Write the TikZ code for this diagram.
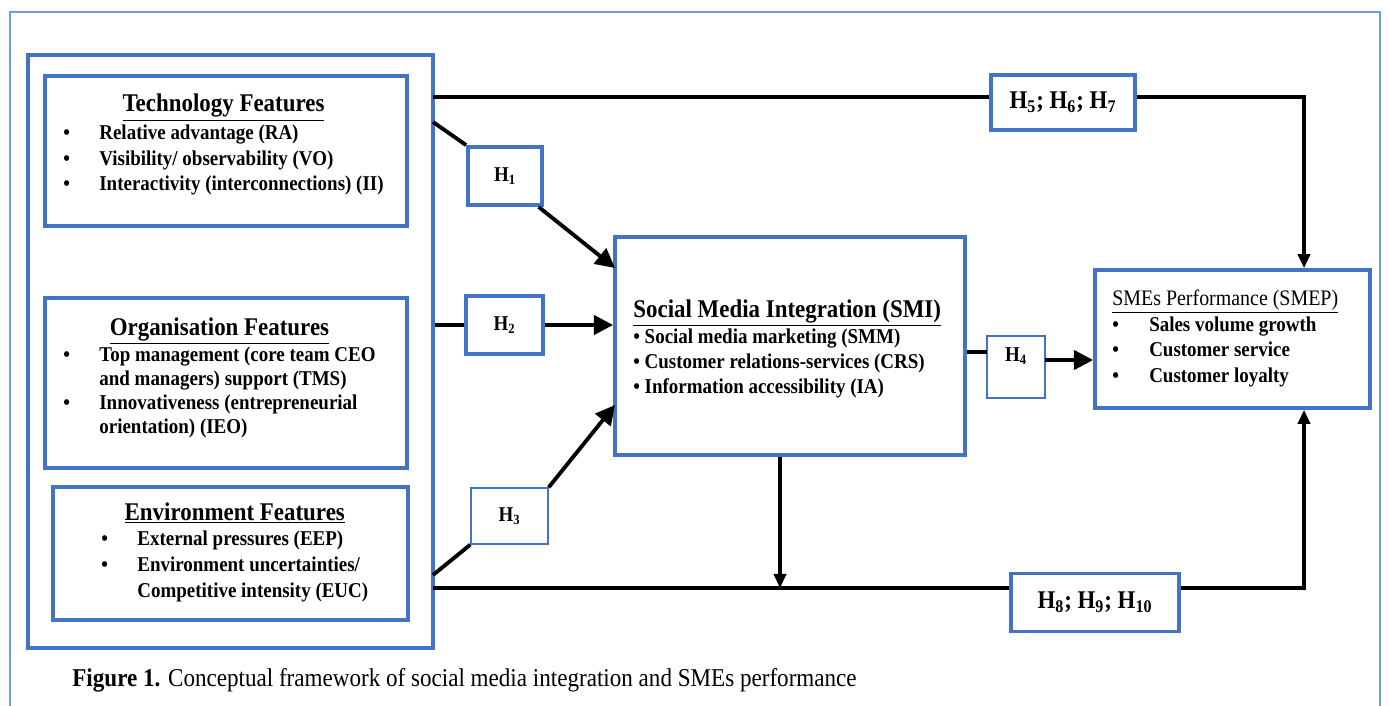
\documentclass[tikz,border=0pt]{standalone}
\usepackage{fontspec}
\setmainfont{Liberation Serif}[FakeStretch=0.9]
\usepackage{array}
\usetikzlibrary{arrows.meta,positioning}
\definecolor{boxblue}{RGB}{68,114,196}
\definecolor{frameblue}{RGB}{110,160,215}
\tikzset{
  fbox/.style={draw=boxblue,line width=2.2pt,inner sep=0pt,
    font=\fontsize{12}{14}\selectfont\bfseries},
  thinbox/.style={fbox,line width=0.8pt},
  link/.style={line width=2.2pt},
  arr/.style={link,-{Triangle[length=11pt,width=11pt]}},
  varr/.style={line width=1.8pt,-{Triangle[length=8pt,width=7pt]}},
  txt/.style={inner sep=0pt,anchor=base west,
    font=\fontsize{12}{14.7}\selectfont\bfseries}
}
\newcommand{\hd}[1]{{\fontsize{14.5}{17}\selectfont\underline{#1}}}
\newcommand{\hsub}[1]{H\textsubscript{#1}}

\begin{document}
\begin{tikzpicture}[x=0.02cm,y=-0.02cm]
  \useasboundingbox (0,0) rectangle (1389,706);
  % outer frame (open at the bottom)
  \draw[frameblue,line width=1.6pt] (10,706) -- (10,12) -- (1380,12) -- (1380,706);

  % boxes
  \node[fbox,minimum width=8.1cm,minimum height=11.86cm] (lf) at (230.5,351.5) {};
  \node[fbox,minimum width=7.24cm,minimum height=3cm] (tech) at (226,151) {};
  \node[fbox,minimum width=7.24cm,minimum height=3.4cm] (org) at (226,383) {};
  \node[fbox,minimum width=7.1cm,minimum height=2.66cm] (env) at (230.5,553.5) {};
  \node[fbox,minimum width=7cm,minimum height=4.36cm] (smi) at (790,346) {};
  \node[fbox,minimum width=5.5cm,minimum height=2.76cm] (smep) at (1232.5,339) {};

  % hypothesis boxes
  \node[fbox,minimum width=1.48cm,minimum height=1.16cm] (h1) at (505,176) {\hsub{1}};
  \node[fbox,minimum width=1.54cm,minimum height=1.16cm] (h2) at (504.5,325) {\hsub{2}};
  \node[thinbox,minimum width=1.54cm,minimum height=1.12cm] (h3) at (509.5,516) {\hsub{3}};
  \node[thinbox,minimum width=1.16cm,minimum height=1.24cm,text depth=14pt] (h4) at (1016,367) {\hsub{4}};
  \node[fbox,minimum width=2.88cm,minimum height=1.1cm,font=\fontsize{14.5}{17}\selectfont\bfseries] (h57) at (1063,102.5) {\hsub{5}; \hsub{6}; \hsub{7}};
  \node[fbox,minimum width=3.36cm,minimum height=1.16cm,font=\fontsize{14.5}{17}\selectfont\bfseries] (h810) at (1095,602.5) {\hsub{8}; \hsub{9}; \hsub{10}};

  % box texts
  \node[txt] (techtxt) at (63,112) {\begin{tabular}[t]{@{}p{20.5pt}@{}l@{}}
    \multicolumn{2}{c}{\hd{Technology Features}}\\
    \textbullet & Relative advantage (RA)\\
    \textbullet & Visibility/ observability (VO)\\
    \textbullet & Interactivity (interconnections) (II)
  \end{tabular}};
  \node[txt,font=\fontsize{12}{13.8}\selectfont\bfseries] (orgtxt) at (63,335) {\begin{tabular}[t]{@{}p{20.5pt}@{}l@{}}
    \multicolumn{2}{c}{\hd{Organisation Features}}\\
    \textbullet & Top management (core team CEO\\
                & and managers) support (TMS)\\
    \textbullet & Innovativeness (entrepreneurial\\
                & orientation) (IEO)
  \end{tabular}};
  \node[txt] (envtxt) at (101,520) {\begin{tabular}[t]{@{}p{20.5pt}@{}l@{}}
    \multicolumn{2}{c}{\hd{Environment Features}}\\
    \textbullet & External pressures (EEP)\\
    \textbullet & Environment uncertainties/\\
                & Competitive intensity (EUC)
  \end{tabular}};
  \node[txt,font=\fontsize{12}{14.2}\selectfont\bfseries] (smitxt) at (633,317) {\begin{tabular}[t]{@{}l@{}}
    \hd{Social Media Integration (SMI)}\\
    \textbullet\ Social media marketing (SMM)\\
    \textbullet\ Customer relations-services (CRS)\\
    \textbullet\ Information accessibility (IA)
  \end{tabular}};
  \node[txt,font=\fontsize{12}{14.5}\selectfont\bfseries] (smeptxt) at (1112,305) {\begin{tabular}[t]{@{}p{21pt}@{}l@{}}
    \multicolumn{2}{@{}l@{}}{\fontsize{12.6}{14.5}\selectfont\mdseries\underline{SMEs Performance (SMEP)}}\\
    \textbullet & Sales volume growth\\
    \textbullet & Customer service\\
    \textbullet & Customer loyalty
  \end{tabular}};

  % caption
  \node[txt,font=\fontsize{14.6}{17}\selectfont] (cap) at (72,686)
    {\textbf{Figure 1.} Conceptual framework of social media integration and SMEs performance};

  % turning points of the connectors
  \coordinate (top) at (433,97);
  \coordinate (bot) at (433,588);
  \coordinate (rt) at (1304,0);
  \coordinate (mid) at (780,0);
  \coordinate (h1a) at (433,122);
  \coordinate (h3a) at (433,575);
  \coordinate (smi1) at (615,268);
  \coordinate (smi3) at (615,405);
  \coordinate (h4in) at (987,352);
  \coordinate (h4out) at (1045,360);

  % connectors
  \draw[link] (top) -- (top -| h57.west);
  \draw[varr] (h57.east |- top) -| (rt |- smep.north);
  \draw[link] (bot) -- (bot -| h810.west);
  \draw[varr] (h810.east |- bot) -| (rt |- smep.south);
  \draw[varr] (mid |- smi.south) -- (mid |- bot);
  \draw[link] (h1a) -- (h1.north west);
  \draw[arr] ([xshift=-3pt]h1.south east) -- (smi1);
  \draw[link] (lf.east |- h2.west) -- (h2.west);
  \draw[arr] (h2.east) -- (smi.west |- h2.east);
  \draw[link] (h3a) -- (h3.south west);
  \draw[arr] (h3.north east) -- (smi3);
  \draw[link] (smi.east |- h4in) -- (h4in);
  \draw[arr] (h4out) -- (smep.west |- h4out);
\end{tikzpicture}
\end{document}
